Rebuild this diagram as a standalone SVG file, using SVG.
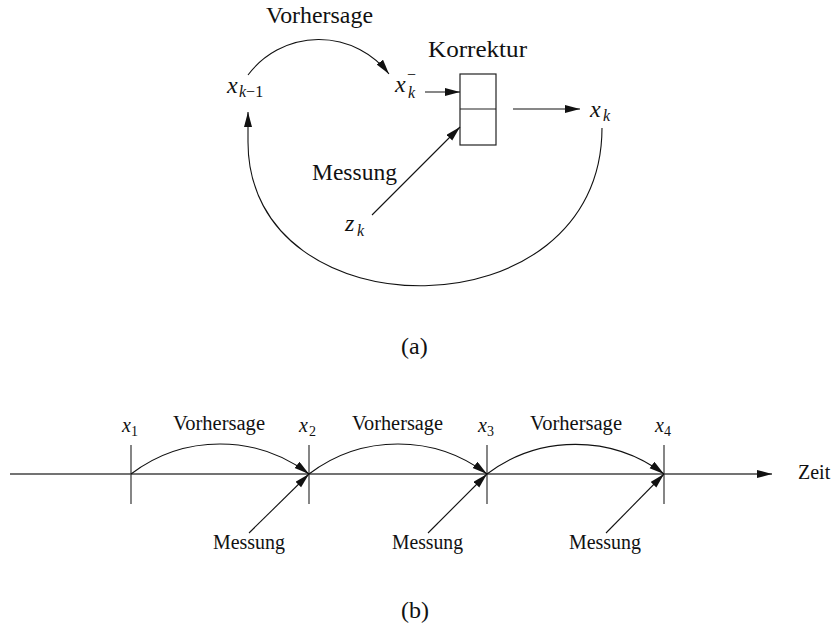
<svg xmlns="http://www.w3.org/2000/svg" width="831" height="632" viewBox="0 0 831 632">
<style>
text{font-family:"Liberation Serif","Times New Roman",serif;fill:#111;font-size:20px}
.m{font-style:italic}
.s{font-size:14px}
.c{fill:none;stroke:#111;stroke-width:1.1}
.ax{fill:none;stroke:#444;stroke-width:1.3}
.bx{fill:#fff;stroke:#222;stroke-width:1.2}
</style>
<defs>
<marker id="ah" markerUnits="userSpaceOnUse" markerWidth="16" markerHeight="9" refX="15" refY="4" orient="auto">
<path d="M0,0 L15,4 L0,8 z" fill="#111"/>
</marker>
</defs>
<rect width="831" height="632" fill="#fff"/>

<!-- (a) -->
<g id="x_km1"><text x="227" y="93" class="m" style="font-size:24px">x</text><text x="239" y="97" class="m" style="font-size:16px">k<tspan font-style="normal">−1</tspan></text></g>
<g id="x_k_prior"><text x="395" y="92" class="m" style="font-size:24px">x</text><text x="408" y="98" class="m" style="font-size:16px">k</text><text x="407" y="80" style="font-size:16px">−</text></g>
<g id="korrektur"><rect x="460" y="74" width="36" height="71" class="bx"/><line x1="460" y1="109" x2="496" y2="109" class="bx"/><text x="428" y="57" style="font-size:24px" textLength="99" lengthAdjust="spacingAndGlyphs">Korrektur</text></g>
<g id="x_k"><text x="590" y="117" class="m" style="font-size:24px">x</text><text x="603" y="121" class="m" style="font-size:16px">k</text></g>
<g id="z_k"><text x="345" y="231" class="m" style="font-size:24px">z</text><text x="357" y="236" class="m" style="font-size:16px">k</text></g>
<g id="labels_a">
<text x="266" y="23" style="font-size:23px" textLength="107" lengthAdjust="spacingAndGlyphs">Vorhersage</text>
<text x="312" y="180" style="font-size:23px" textLength="85" lengthAdjust="spacingAndGlyphs">Messung</text>
<text x="401" y="354" style="font-size:24px">(a)</text>
</g>

<!-- (b) -->
<g id="axis"><line x1="10" y1="474" x2="772" y2="474" class="ax" marker-end="url(#ah)"/><text x="798" y="479">Zeit</text></g>
<g id="t1"><line x1="131" y1="445" x2="131" y2="504" class="ax"/><text x="122" y="432" class="m">x</text><text x="131" y="436" class="s">1</text></g>
<g id="t2"><line x1="309" y1="445" x2="309" y2="504" class="ax"/><text x="299" y="432" class="m">x</text><text x="309" y="436" class="s">2</text></g>
<g id="t3"><line x1="487" y1="445" x2="487" y2="504" class="ax"/><text x="478" y="432" class="m">x</text><text x="487" y="436" class="s">3</text></g>
<g id="t4"><line x1="664" y1="445" x2="664" y2="504" class="ax"/><text x="655" y="432" class="m">x</text><text x="664" y="436" class="s">4</text></g>
<g id="labels_b">
<text x="173" y="430" textLength="92" lengthAdjust="spacingAndGlyphs">Vorhersage</text>
<text x="352" y="430" textLength="91" lengthAdjust="spacingAndGlyphs">Vorhersage</text>
<text x="530" y="430" textLength="92" lengthAdjust="spacingAndGlyphs">Vorhersage</text>
<text x="213" y="549" textLength="72" lengthAdjust="spacingAndGlyphs">Messung</text>
<text x="392" y="549" textLength="71" lengthAdjust="spacingAndGlyphs">Messung</text>
<text x="569" y="549" textLength="72" lengthAdjust="spacingAndGlyphs">Messung</text>
<text x="401" y="618" style="font-size:24px">(b)</text>
</g>

<g id="connectors">
<path d="M248 75 A88.5 88.5 0 0 1 389 74" class="c" marker-end="url(#ah)"/>
<line x1="425" y1="92" x2="460" y2="92" class="c" marker-end="url(#ah)"/>
<line x1="513" y1="109" x2="580" y2="109" class="c" marker-end="url(#ah)"/>
<line x1="372" y1="215" x2="460" y2="127" class="c" marker-end="url(#ah)"/>
<path d="M602 128 C602 336 248 336 248 142 L248 112" class="c" marker-end="url(#ah)"/>
<path d="M131 474 A147 147 0 0 1 309 474" class="c" marker-end="url(#ah)"/>
<path d="M309 474 A147 147 0 0 1 487 474" class="c" marker-end="url(#ah)"/>
<path d="M487 474 A147 147 0 0 1 664 474" class="c" marker-end="url(#ah)"/>
<line x1="249" y1="533" x2="309" y2="474" class="c" marker-end="url(#ah)"/>
<line x1="428" y1="533" x2="487" y2="474" class="c" marker-end="url(#ah)"/>
<line x1="606" y1="533" x2="664" y2="474" class="c" marker-end="url(#ah)"/>
</g>
</svg>
